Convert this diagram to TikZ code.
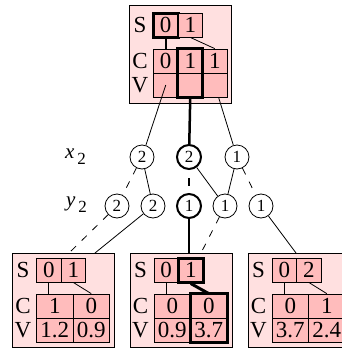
\documentclass[tikz,border=0pt]{standalone}
\usepackage{fontspec}
\setmainfont{Liberation Serif}
\definecolor{boxpink}{RGB}{255,224,224}
\definecolor{cellpink}{RGB}{255,188,188}
\newcommand\cfnt{\fontsize{23}{23}\selectfont}
\newcommand\kfnt{\fontsize{17}{17}\selectfont}
\newcommand\lfnt{\fontsize{21}{21}\selectfont}
\begin{document}
\begin{tikzpicture}[x=1pt,y=-1pt,
  outerbox/.style={draw, fill=boxpink, line width=0.8pt, inner sep=0pt, anchor=north west, minimum width=102pt},
  cellS/.style={draw, fill=cellpink, line width=0.8pt, inner sep=0pt, minimum width=24.5pt, minimum height=24pt, font=\cfnt},
  cellW/.style={cellS, minimum width=36.5pt},
  lab/.style={inner sep=0pt, font=\cfnt},
  hl/.style={line width=3pt},
  circ/.style={circle, draw, line width=0.8pt, minimum size=24pt, inner sep=0pt, font=\kfnt, fill=white},
  thickcirc/.style={circ, line width=2pt},
  edgethin/.style={line width=0.8pt},
  edgethick/.style={line width=2.5pt},
  dashthin/.style={line width=0.8pt, dash pattern=on 7pt off 8pt},
  dashthick/.style={line width=2.5pt, dash pattern=on 8pt off 8pt, dash phase=8pt}
]
\useasboundingbox (0,0) rectangle (342,349);
\clip (0,0) rectangle (342,349);

% ---------- top box ----------
\node[outerbox, minimum height=98pt] (T) at (129,5) {};
\node[lab] (TSl) at (140,25) {S};
\node[lab] (TCl) at (140,61) {C};
\node[lab] (TVl) at (140,85) {V};
\node[cellS] (TV3) at (214.75,85) {};
\node[circ] (X3) at (237,157) {1};
\draw[edgethin] (TV3.center) -- (X3);
\node[cellS, line width=3pt] (TS0) at (165.75,25) {0};
\node[cellS] (TS1) at (190.25,25) {1};
\node[cellS] (TC1) at (165.75,61) {0};
\node[cellS] (TC2) at (190.25,61) {1};
\node[cellS] (TC3) at (214.75,61) {1};
\node[cellS] (TV1) at (165.75,85) {};
\node[cellS] (TV2) at (190.25,85) {};
\node[cellS] (TV3b) at (214.75,85) {};
\draw[line width=2pt] (TS0.south) -- (TS0.south |- TC1.north);
\draw[edgethin] (TS1.south) -- (TC3.north);
\draw[hl] (TC2.north west) rectangle (TV2.south east);

% ---------- labels ----------
\node[inner sep=0pt, font=\lfnt, anchor=west] (xl) at (65,157) {\itshape x\raisebox{-6pt}{\upshape\kfnt\,2}};
\node[inner sep=0pt, font=\lfnt, anchor=west] (yl) at (66,205) {\itshape y\raisebox{-6pt}{\upshape\kfnt\,2}};

% ---------- circles ----------
\node[circ] (X1) at (142,157) {2};
\node[thickcirc] (X2) at (189,157) {2};
\node[circ] (Y1) at (117,206) {2};
\node[circ] (Y2) at (153,206) {2};
\node[thickcirc] (Y3) at (189,206) {1};
\node[circ] (Y4) at (225,206) {1};
\node[circ] (Y5) at (261,206) {1};

\draw[edgethin] (TV1.center) -- (X1);
\draw[edgethick] (TV2.south) -- (X2);

\draw[dashthin] (X1) -- (Y1);
\draw[edgethin] (X1) -- (Y2);
\draw[dashthick] (X2.south) -- (Y3.north);
\draw[edgethin] (X2) -- (Y4);
\draw[edgethin] (X3) -- (Y4);
\draw[dashthin] (X3) -- (Y5);

% ---------- bottom boxes ----------
\coordinate (L1) at (69,253);
\coordinate (L2) at (95,253);
\coordinate (M1) at (189,253);
\coordinate (M2) at (201,253);
\coordinate (R1) at (296,253);
\draw[dashthin] (Y1) -- (L1);
\draw[edgethin] (Y2) -- (L2);
\draw[edgethick] (Y3) -- (M1);
\draw[dashthin] (Y4) -- (M2);
\draw[edgethin] (Y5) -- (R1);

% left box
\node[outerbox, minimum height=94pt] (A) at (12,253) {};
\node[lab] (ASl) at (23,270) {S};
\node[lab] (ACl) at (23,306) {C};
\node[lab] (AVl) at (23,330) {V};
\node[cellS] (AS0) at (48.75,270) {0};
\node[cellS] (AS1) at (73.25,270) {1};
\node[cellW] (AC1) at (54.75,306) {1};
\node[cellW] (AC2) at (91.25,306) {0};
\node[cellW] (AV1) at (54.75,330) {1.2};
\node[cellW] (AV2) at (91.25,330) {0.9};
\draw[edgethin] (AS0.south) -- (AS0.south |- AC1.north);
\draw[edgethin] (AS1.south) -- (AC2.north);

% middle box
\node[outerbox, minimum height=94pt] (B) at (129.5,253) {};
\node[lab] (BSl) at (140.5,270) {S};
\node[lab] (BCl) at (140.5,306) {C};
\node[lab] (BVl) at (140.5,330) {V};
\node[cellS] (BS0) at (166.25,270) {0};
\node[cellS, line width=3pt] (BS1) at (190.75,270) {1};
\node[cellW] (BC1) at (172.25,306) {0};
\node[cellW] (BC2) at (208.75,306) {0};
\node[cellW] (BV1) at (172.25,330) {0.9};
\node[cellW] (BV2) at (208.75,330) {3.7};
\draw[edgethin] (BS0.south) -- (BS0.south |- BC1.north);
\draw[hl] (BS1.south) -- (BC2.north);
\draw[hl] (BC2.north west) rectangle (BV2.south east);

% right box
\node[outerbox, minimum height=94pt] (C) at (247.5,253) {};
\node[lab] (CSl) at (258.5,270) {S};
\node[lab] (CCl) at (258.5,306) {C};
\node[lab] (CVl) at (258.5,330) {V};
\node[cellS] (CS0) at (284.25,270) {0};
\node[cellS] (CS1) at (308.75,270) {2};
\node[cellW] (CC1) at (290.25,306) {0};
\node[cellW] (CC2) at (326.75,306) {1};
\node[cellW] (CV1) at (290.25,330) {3.7};
\node[cellW] (CV2) at (326.75,330) {2.4};
\draw[edgethin] (CS0.south) -- (CS0.south |- CC1.north);
\draw[edgethin] (CS1.south) -- (CC2.north);
\end{tikzpicture}
\end{document}
